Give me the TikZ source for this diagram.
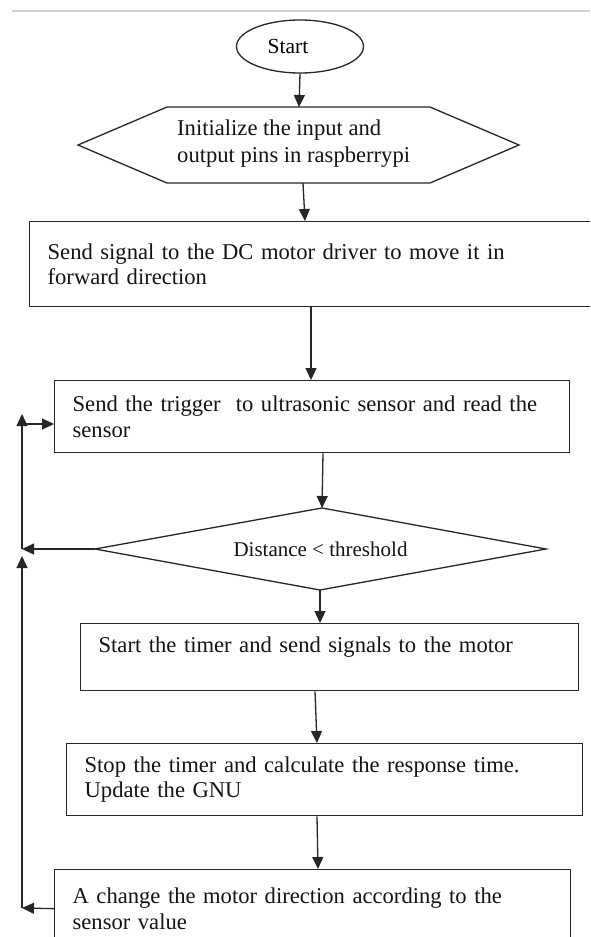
\documentclass[tikz,border=0pt]{standalone}
\usepackage{fontspec}
\setmainfont{Liberation Serif}
\usetikzlibrary{arrows.meta,shapes.geometric}
\begin{document}
\begin{tikzpicture}[x=1pt,y=-1pt,
  ln/.style={draw=black!85, line width=1.3pt},
  arr/.style={ln, -{Triangle[length=12pt,width=11pt]}},
  boxtxt/.style={font=\fontsize{22.6}{25.5}\selectfont, text=black!92},
  box/.style={ln, boxtxt, rectangle, anchor=north west, inner xsep=18pt, inner ysep=0pt, align=left},
]
\useasboundingbox (0,0) rectangle (590,937);
\clip (0,0) rectangle (590,937);
\fill[white] (0,0) rectangle (590,937);
\draw[color={rgb,255:red,208;green,212;blue,218}, line width=1.5pt] (12,11) -- (590,11);

% Start
\node[ellipse, ln, minimum width=127pt, minimum height=53pt, inner sep=0pt,
      font=\fontsize{21.5}{24}\selectfont] (start) at (300,46.5) {\hspace*{-24pt}Start};

% Hexagon
\coordinate (hL) at (78,145);
\coordinate (hTL) at (167,107);
\coordinate (hTR) at (430,107);
\coordinate (hR) at (519,145);
\coordinate (hBR) at (430,183);
\coordinate (hBL) at (167,183);
\coordinate (hT) at (299,107);
\coordinate (hB) at (303,183);
\draw[ln] (hL) -- (hTL) -- (hTR) -- (hR) -- (hBR) -- (hBL) -- cycle;
\node[anchor=west, align=left, inner sep=0pt, font=\fontsize{22.6}{27}\selectfont, text=black!92]
  (hex) at (177,144) {Initialize the input and\\output pins in raspberrypi};

% Boxes
\node[box, minimum width=571pt, minimum height=85pt, text width=535pt] (b1) at (29,221)
  {Send signal to the DC motor driver to move it in\\forward direction};
\node[box, minimum width=515pt, minimum height=72pt, text width=479pt] (b2) at (54,380)
  {Send the trigger\ \ to ultrasonic sensor and read the\\sensor};
\node[box, minimum width=498pt, minimum height=67pt, text width=462pt] (b3) at (80,623)
  {Start the timer and send signals to the motor\\~};
\node[box, minimum width=516pt, minimum height=72pt, text width=480pt] (b4) at (66,743)
  {Stop the timer and calculate the response time.\\Update the GNU};
\node[box, minimum width=516pt, minimum height=78pt, text width=480pt] (b5) at (54,869)
  {A change the motor direction according to the\\sensor value};

% Diamond
\coordinate (dL) at (95,549);
\coordinate (dT) at (322,508);
\coordinate (dR) at (546,549);
\coordinate (dB) at (320,590);
\draw[ln] (dL) -- (dT) -- (dR) -- (dB) -- cycle;
\node[inner sep=0pt, font=\fontsize{21}{24}\selectfont, text=black!92] (dtext) at (320.5,549) {Distance < threshold};

% Main flow arrows
\draw[arr] (start.south) -- (hT);
\draw[arr] (hB) -- ([xshift=276pt]b1.north west);
\draw[arr] ([xshift=282pt]b1.south west) -- ([xshift=257pt]b2.north west);
\draw[arr] ([xshift=269pt]b2.south west) -- (dT);
\draw[arr] (dB) -- ([xshift=240pt]b3.north west);
\draw[arr] ([xshift=235pt]b3.south west) -- ([xshift=251pt]b4.north west);
\draw[arr] ([xshift=251pt]b4.south west) -- ([xshift=264pt]b5.north west);

% Loop back
\coordinate (la) at (22,549);
\coordinate (lu) at (22,414);
\coordinate (lm) at (22,424);
\coordinate (lbot) at (22,908);
\coordinate (lv) at (22,556);
\draw[arr] (dL) -- (la);
\draw[arr] (la) -- (lu);
\draw[arr] (lm) -- (lm -| b2.west);
\draw[arr] (b5.west) -- (lbot);
\draw[arr] (lbot) -- (lv);
\end{tikzpicture}
\end{document}
